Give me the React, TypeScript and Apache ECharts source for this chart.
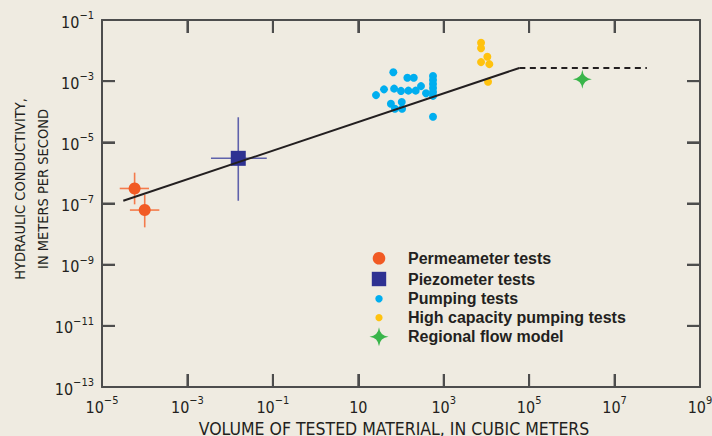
import React, { useEffect, useRef } from "react";
import * as echarts from "echarts";

// ---- data (real units) ----
// Permeameter tests: volume (m3), K (m/s), error-bar extents
const permVol = [5.8e-5, 1.0e-4];
const permK = [3.1e-7, 6.1e-8];
const permVolLo = [2.6e-5, 4.5e-5];
const permVolHi = [1.26e-4, 2.2e-4];
const permKLo = [9.4e-8, 1.66e-8];
const permKHi = [1.02e-6, 1.9e-7];

// Piezometer tests
const piezVol = [1.55e-2];
const piezK = [3.0e-6];
const piezVolLo = [3.56e-3];
const piezVolHi = [7.2e-2];
const piezKLo = [1.23e-7];
const piezKHi = [6.6e-5];

// Pumping tests
const pumpVol = [26, 40, 66, 69, 100, 149, 221, 294, 385, 141, 199, 58, 72, 104, 106, 562, 562, 562, 562, 562, 562, 562];
const pumpK = [3.5e-4, 5.4e-4, 1.95e-3, 5.7e-4, 4.8e-4, 4.9e-4, 4.9e-4, 6.9e-4, 4.0e-4, 1.3e-3, 1.3e-3, 1.83e-4, 1.26e-4, 2.08e-4, 1.26e-4, 1.48e-3, 1.09e-3, 8.1e-4, 6.0e-4, 4.4e-4, 3.3e-4, 6.9e-5];

// High capacity pumping tests
const hcVol = [7480, 7480, 10500, 7480, 11700, 10900];
const hcK = [1.81e-2, 1.19e-2, 6.3e-3, 4.2e-3, 3.6e-3, 9.6e-4];

// Regional flow model
const regVol = [1.76e6];
const regK = [1.15e-3];

// Trend line (solid part, then dashed plateau)
const trendVol = [3.15e-5, 5.9e4];
const trendK = [1.23e-7, 2.7e-3];
const plateauVol = [5.9e4, 5.7e7];
const plateauK = [2.7e-3, 2.7e-3];

// Axis ranges and tick exponents (decades)
const xExpMin = -5;
const xExpMax = 9;
const yExpMin = -13;
const yExpMax = -1;
const expStep = 2;
const xTickExps = [-3, -1, 1, 3, 5, 7];
const yTickExps = [-11, -9, -7, -5, -3];

const legendNames = [
  "Permeameter tests",
  "Piezometer tests",
  "Pumping tests",
  "High capacity pumping tests",
  "Regional flow model",
];

// ---- styles ----
const BG = "#efebe1";
const INK = "#231f20";
const AXIS = "#4d4d4d";
const ORANGE = "#f15a24";
const ORANGE_BAR = "#f47b4c";
const NAVY = "#2e3192";
const NAVY_BAR = "#5f62ab";
const BLUE = "#00aeef";
const YELLOW = "#ffc20e";
const GREEN = "#39b54a";
const NARROW = "'Liberation Sans Narrow', 'DejaVu Sans Condensed', 'Arial Narrow', sans-serif";
const STAR = "path://M0,-10 Q1,-1 10,0 Q1,1 0,10 Q-1,1 -10,0 Q-1,-1 0,-10 Z";
const STAR_D = "M0,-10 Q1,-1 10,0 Q1,1 0,10 Q-1,1 -10,0 Q-1,-1 0,-10 Z";
const TICK_LEN = 13;

const lg = Math.log10;
const pts = (xs: number[], ys: number[]) => xs.map((x, i) => [lg(x), lg(ys[i])]);

const supText = (v: number) => (v < 0 ? "\u2212" + String(-v) : String(v));
const tickLabel = (v: number) => (v === 1 ? "{b|10}" : `{b|10}{s|${supText(v)}}`);

const mkRich = () => ({
  b: { fontSize: 16, fontFamily: NARROW, color: INK, lineHeight: 20, verticalAlign: "bottom" },
  s: { fontSize: 11, fontFamily: NARROW, color: INK, lineHeight: 20, verticalAlign: "top", padding: [0, 0, 6, 0] },
});
const mkLine = () => ({ show: true, onZero: false, lineStyle: { color: AXIS, width: 2 } });
const mkTick = () => ({ show: true, inside: true, length: TICK_LEN, lineStyle: { color: AXIS, width: 2 } });

function App() {
  const ref = useRef<HTMLDivElement>(null);
  useEffect(() => {
    document.body.style.margin = "0";
    document.body.style.background = BG;
    if (!ref.current) return;
    try {
      echarts.graphic.registerShape("star4", echarts.graphic.extendPath(STAR_D, {}));
    } catch (e) {}
    const chart = echarts.init(ref.current, undefined, { renderer: "svg" });

    const errBar = (color: string) => (params: any, api: any) => {
      const xl = api.coord([api.value(2), api.value(1)]);
      const xh = api.coord([api.value(3), api.value(1)]);
      const yl = api.coord([api.value(0), api.value(4)]);
      const yh = api.coord([api.value(0), api.value(5)]);
      return {
        type: "group",
        children: [
          { type: "line", shape: { x1: xl[0], y1: xl[1], x2: xh[0], y2: xh[1] }, style: { stroke: color, lineWidth: 1.6 } },
          { type: "line", shape: { x1: yl[0], y1: yl[1], x2: yh[0], y2: yh[1] }, style: { stroke: color, lineWidth: 1.6 } },
        ],
      };
    };

    // inward ticks on all four sides, placed only through api.coord
    const xTicksRender = (params: any, api: any) => {
      const b = api.coord([api.value(0), yExpMin]);
      const t = api.coord([api.value(0), yExpMax]);
      return {
        type: "group",
        children: [
          { type: "line", shape: { x1: b[0], y1: b[1], x2: b[0], y2: b[1] - TICK_LEN }, style: { stroke: AXIS, lineWidth: 2 } },
          { type: "line", shape: { x1: t[0], y1: t[1], x2: t[0], y2: t[1] + TICK_LEN }, style: { stroke: AXIS, lineWidth: 2 } },
        ],
      };
    };
    const yTicksRender = (params: any, api: any) => {
      const l = api.coord([xExpMin, api.value(1)]);
      const r = api.coord([xExpMax, api.value(1)]);
      return {
        type: "group",
        children: [
          { type: "line", shape: { x1: l[0], y1: l[1], x2: l[0] + TICK_LEN, y2: l[1] }, style: { stroke: AXIS, lineWidth: 2 } },
          { type: "line", shape: { x1: r[0], y1: r[1], x2: r[0] - TICK_LEN, y2: r[1] }, style: { stroke: AXIS, lineWidth: 2 } },
        ],
      };
    };

    const permBars = permVol.map((v, i) => [lg(v), lg(permK[i]), lg(permVolLo[i]), lg(permVolHi[i]), lg(permKLo[i]), lg(permKHi[i])]);
    const piezBars = piezVol.map((v, i) => [lg(v), lg(piezK[i]), lg(piezVolLo[i]), lg(piezVolHi[i]), lg(piezKLo[i]), lg(piezKHi[i])]);

    const rowY = [258.3, 279, 298.7, 317.7, 336.7];
    const iconX = 379;
    const textX = 408;

    const option: any = {
      animation: false,
      backgroundColor: BG,
      grid: { left: 102, right: 12, top: 20, bottom: 49, containLabel: false, outerBoundsMode: "none" },
      xAxis: [
        {
          type: "value",
          z: 20,
          min: xExpMin,
          max: xExpMax,
          interval: expStep,
          axisLine: mkLine(),
          axisTick: mkTick(),
          splitLine: { show: false },
          axisLabel: { margin: 8, formatter: tickLabel, rich: mkRich() },
          name: "VOLUME OF TESTED MATERIAL, IN CUBIC METERS",
          nameLocation: "middle",
          nameGap: 27,
          nameTextStyle: { fontSize: 17.5, fontFamily: NARROW, color: INK, padding: [0, 14, 0, 0] },
        },
        {
          type: "value",
          z: 20,
          position: "top",
          min: xExpMin,
          max: xExpMax,
          interval: expStep,
          axisLine: mkLine(),
          axisTick: mkTick(),
          splitLine: { show: false },
          axisLabel: { show: false },
        },
      ],
      yAxis: [
        {
          type: "value",
          z: 20,
          min: yExpMin,
          max: yExpMax,
          interval: expStep,
          axisLine: mkLine(),
          axisTick: mkTick(),
          splitLine: { show: false },
          axisLabel: { margin: 8, formatter: tickLabel, rich: mkRich() },
        },
        {
          type: "value",
          z: 20,
          position: "right",
          min: yExpMin,
          max: yExpMax,
          interval: expStep,
          axisLine: mkLine(),
          axisTick: mkTick(),
          splitLine: { show: false },
          axisLabel: { show: false },
        },
      ],
      series: [
        { type: "custom", z: 30, renderItem: xTicksRender, data: xTickExps.map((v) => [v, yExpMin]), silent: true, clip: false },
        { type: "custom", z: 30, renderItem: yTicksRender, data: yTickExps.map((v) => [xExpMin, v]), silent: true, clip: false },
        {
          type: "line",
          data: pts(trendVol, trendK),
          symbol: "none",
          lineStyle: { color: INK, width: 2 },
          silent: true,
        },
        {
          type: "line",
          data: pts(plateauVol, plateauK),
          symbol: "none",
          lineStyle: { color: INK, width: 2, type: [6, 4.5] },
          silent: true,
        },
        { type: "custom", renderItem: errBar(ORANGE_BAR), data: permBars, encode: { x: [0, 2, 3], y: [1, 4, 5] }, silent: true },
        { type: "custom", renderItem: errBar(NAVY_BAR), data: piezBars, encode: { x: [0, 2, 3], y: [1, 4, 5] }, silent: true },
        { name: legendNames[0], type: "scatter", symbol: "circle", symbolSize: 12, itemStyle: { color: ORANGE, opacity: 1 }, data: pts(permVol, permK) },
        { name: legendNames[1], type: "scatter", symbol: "rect", symbolSize: 15, itemStyle: { color: NAVY, opacity: 1 }, data: pts(piezVol, piezK) },
        { name: legendNames[2], type: "scatter", symbol: "circle", symbolSize: 8, itemStyle: { color: BLUE, opacity: 1 }, data: pts(pumpVol, pumpK) },
        { name: legendNames[3], type: "scatter", symbol: "circle", symbolSize: 8, itemStyle: { color: YELLOW, opacity: 1 }, data: pts(hcVol, hcK) },
        { name: legendNames[4], type: "scatter", symbol: STAR, symbolSize: 19, itemStyle: { color: GREEN, opacity: 1 }, data: pts(regVol, regK) },
      ],
      graphic: [
        {
          type: "text",
          x: 31.5,
          y: 189,
          rotation: Math.PI / 2,
          style: {
            text: "HYDRAULIC CONDUCTIVITY,\nIN METERS PER SECOND",
            align: "center",
            verticalAlign: "middle",
            fontSize: 14.5,
            lineHeight: 23,
            fontFamily: NARROW,
            fill: INK,
          },
        },
        { type: "circle", shape: { cx: iconX, cy: rowY[0], r: 6.3 }, style: { fill: ORANGE } },
        { type: "rect", shape: { x: iconX - 7.2, y: rowY[1] - 7.2, width: 14.4, height: 14.4 }, style: { fill: NAVY } },
        { type: "circle", shape: { cx: iconX, cy: rowY[2], r: 3.7 }, style: { fill: BLUE } },
        { type: "circle", shape: { cx: iconX, cy: rowY[3], r: 3.6 }, style: { fill: YELLOW } },
        { type: "star4", x: iconX, y: rowY[4], scaleX: 0.95, scaleY: 0.95, style: { fill: GREEN } },
        ...legendNames.map((n, i) => ({
          type: "text",
          x: textX,
          y: rowY[i],
          style: {
            text: n,
            align: "left",
            verticalAlign: "middle",
            fontSize: 16,
            fontWeight: "bold",
            fontFamily: "'Liberation Sans', Arial, sans-serif",
            fill: INK,
          },
        })),
      ],
    };
    chart.setOption(option);
    return () => chart.dispose();
  }, []);
  return <div ref={ref} style={{ width: 712, height: 436 }} />;
}

export default App;
